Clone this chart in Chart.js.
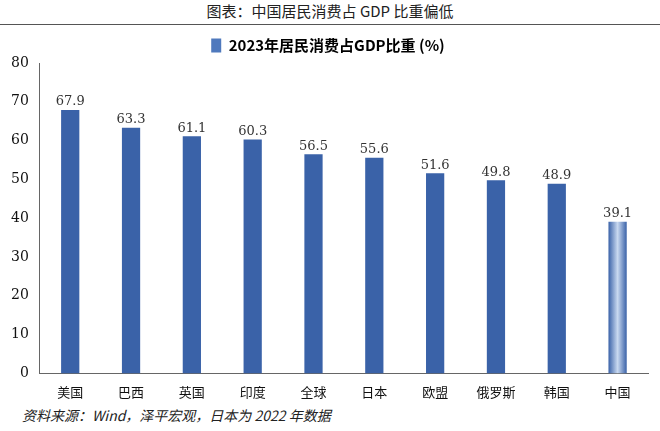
<!DOCTYPE html>
<html><head><meta charset="utf-8">
<script src="https://cdn.jsdelivr.net/npm/chart.js@4"></script>
<style>
body{margin:0;width:660px;height:431px;background:#fff;font-family:"Noto Sans CJK SC";position:relative;overflow:hidden}
#t{position:absolute;top:0;left:0;width:660px;text-align:center;font-size:15px;color:#222;font-family:"Noto Sans CJK SC";line-height:22px}
#ln{position:absolute;top:24px;left:0;width:660px;border-top:1px solid #555}
#c{position:absolute;top:28px;left:0}
#f{position:absolute;top:405px;left:22px;font-size:14px;font-style:italic;color:#222}
</style></head><body>
<div id="t">图表：中国居民消费占 GDP 比重偏低</div><div id="ln"></div>
<div id="c"><canvas id="cv" width="660" height="375"></canvas></div>
<div id="f">资料来源：Wind，泽平宏观，日本为 2022 年数据</div>
<script>
const categories=["美国","巴西","英国","印度","全球","日本","欧盟","俄罗斯","韩国","中国"];
const values=[67.9,63.3,61.1,60.3,56.5,55.6,51.6,49.8,48.9,39.1];
const yTicks=[0,10,20,30,40,50,60,70,80];
const gradPlugin={id:'grad',beforeDatasetsDraw(ch){const c=ch.ctx;
ch.getDatasetMeta(0).data.forEach(el=>{const w=el.width;const g=c.createLinearGradient(el.x-w/2,0,el.x+w/2,0);
g.addColorStop(0,'#3a62a8');g.addColorStop(0.5,'#c9d9f0');g.addColorStop(1,'#3a62a8');el.options.backgroundColor=g;});}};
const labelPlugin={id:'lbl',afterDatasetsDraw(ch){const c=ch.ctx;c.save();c.font='13px "DejaVu Serif"';c.fillStyle='#333';c.textAlign='center';
ch.getDatasetMeta(0).data.forEach((b,i)=>c.fillText(values[i].toFixed(1),b.x,b.y-8));c.restore();}};
new Chart(document.getElementById('cv'),{type:'bar',
data:{labels:categories,datasets:[{label:'2023年居民消费占GDP比重 (%)',data:values,backgroundColor:'#5b84c4',borderWidth:0,barPercentage:0.3,categoryPercentage:1}]},
options:{responsive:false,animation:false,
layout:{padding:{left:8,right:12,top:0,bottom:0}},
plugins:{legend:{labels:{boxWidth:10,boxHeight:14,color:'#111',font:{family:'"Noto Sans CJK SC"',size:15,weight:'bold'},generateLabels(){return [{text:'2023年居民消费占GDP比重 (%)',fillStyle:'#4f79bd',strokeStyle:'#4f79bd',lineWidth:0}];}}},tooltip:{enabled:false}},
scales:{x:{grid:{display:false},border:{color:'#666'},ticks:{color:'#111',font:{family:'"Noto Sans CJK SC"',size:13}}},
y:{min:0,max:80,afterBuildTicks(a){a.ticks=yTicks.map(v=>({value:v}));},grid:{display:false,drawTicks:true},border:{color:'#666'},ticks:{color:'#111',font:{family:'"DejaVu Serif"',size:14}}}}},
plugins:[gradPlugin,labelPlugin]});
</script></body></html>
